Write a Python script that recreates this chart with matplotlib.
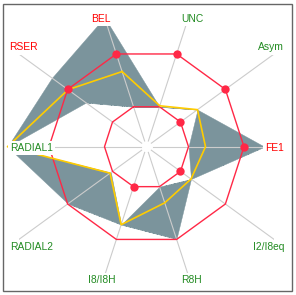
import numpy as np
import matplotlib
matplotlib.use('Agg')
import matplotlib.pyplot as plt
from matplotlib.patches import Rectangle

# radar data, clockwise from the top
categories = ['BEL', 'UNC', 'Asym', 'FE1', 'I2/I8eq', 'R8H', 'I8/I8H', 'RADIAL2', 'RADIAL1', 'RSER']
score = [79, 43, 63, 59, 55, 59, 82, 45, 139, 97]
range_low = [42, 42, 63, 42, 55, 42, 82, 44, 139, 75]
range_high = [136, 42, 63, 118, 55, 97, 82, 97, 139, 117]
limit_low = 42
limit_high = 97.5
flag_high = ['BEL', 'UNC', 'Asym', 'FE1', 'RSER']
flag_low = ['Asym', 'I2/I8eq', 'I8/I8H']
red_labels = ['BEL', 'FE1', 'RSER']

W, H = 296, 295
CX, CY = 146.5, 146.7   # pane centre, pixels from top-left
R = 170

# label anchors (x, baseline, align) in pixels
label_pos = {
    'BEL': (101, 21.5, 'center'),
    'UNC': (192.8, 21.5, 'center'),
    'Asym': (284.3, 50.5, 'right'),
    'FE1': (284.3, 150.6, 'right'),
    'I2/I8eq': (284.3, 250.3, 'right'),
    'R8H': (191.7, 282.7, 'center'),
    'I8/I8H': (101.7, 282.7, 'center'),
    'RADIAL2': (10, 250.3, 'left'),
    'RADIAL1': (10, 150.6, 'left'),
    'RSER': (9.5, 50.5, 'left'),
}

plt.rcParams['font.family'] = ['Liberation Sans', 'DejaVu Sans']

fig = plt.figure(figsize=(W / 100, H / 100), dpi=100)
ax = fig.add_axes([(CX - R) / W, 1 - (CY + R) / H, 2 * R / W, 2 * R / H],
                  projection='polar')
ax.set_ylim(0, R)
ax.grid(False)
ax.set_xticks([])
ax.set_yticks([])
ax.spines['polar'].set_visible(False)
ax.patch.set_alpha(0)

n = len(categories)
theta = np.deg2rad(108 - 36 * np.arange(n))
theta_c = np.append(theta, theta[0])


def closed(vals):
    return np.append(vals, vals[0])


# plot area clip for the radial grid lines
clip_rect = Rectangle((19 / W, 1 - 273 / H), (273.5 - 19) / W, (273 - 25) / H,
                      transform=fig.transFigure)

ax.fill_between(theta_c, closed(range_low), closed(range_high),
                color='#7b949c', lw=0.3, zorder=1)

for t in theta:
    ax.plot([t, t], [6, R], color='#cccccc', lw=0.8, zorder=1.5,
            clip_path=clip_rect)

for lvl in (limit_low, limit_high):
    ax.plot(theta_c, np.full(n + 1, lvl), color='#ff2846', lw=1.0, zorder=2)

ax.plot(theta_c, closed(score), color='#ffcc00', lw=1.2, zorder=2.5)

idx_hi = [categories.index(c) for c in flag_high]
idx_lo = [categories.index(c) for c in flag_low]
ax.plot(theta[idx_hi], np.full(len(idx_hi), limit_high), 'o', color='#ff2846',
        ms=6, mec='none', zorder=3, clip_on=False)
ax.plot(theta[idx_lo], np.full(len(idx_lo), limit_low), 'o', color='#ff2846',
        ms=6, mec='none', zorder=3, clip_on=False)

for cat in categories:
    x, y, ha = label_pos[cat]
    color = '#ff0000' if cat in red_labels else '#228b22'
    fig.text(x / W, 1 - y / H, cat, ha=ha, va='baseline', fontsize=7.4,
             color=color,
             bbox=dict(boxstyle='square,pad=0.2', fc='white', ec='none'))

fig.add_artist(Rectangle((3 / W, 1 - 290.7 / H), 288.5 / W, 286.7 / H,
                         transform=fig.transFigure, fill=False,
                         edgecolor='#666666', lw=1.0))

fig.savefig('out.png', dpi=100)
